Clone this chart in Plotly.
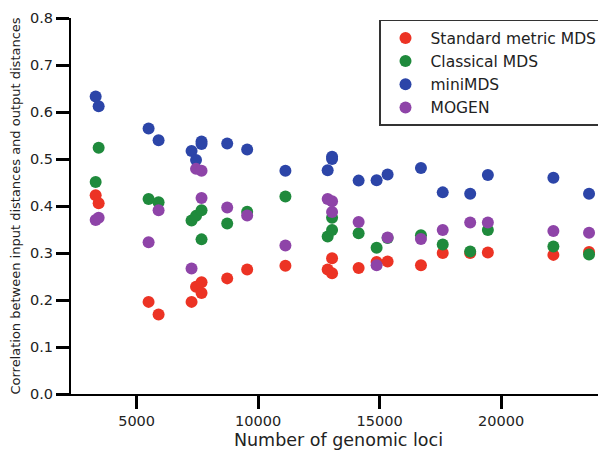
import plotly.graph_objects as go

loci = [3315, 3438, 5493, 5904, 7261, 7446, 7672, 7672, 8728, 9550, 11124,
        12863, 13044, 13044, 14137, 14877, 15329, 16702, 17598, 18728, 19455, 22152, 23619]

standard_mds = [0.423, 0.406, 0.196, 0.169, 0.196, 0.228, 0.238, 0.215, 0.246, 0.265, 0.273,
                0.265, 0.289, 0.257, 0.268, 0.281, 0.282, 0.274, 0.300, 0.300, 0.301, 0.296, 0.302]
classical_mds = [0.451, 0.524, 0.415, 0.408, 0.369, 0.379, 0.391, 0.329, 0.363, 0.388, 0.420,
                 0.335, 0.349, 0.375, 0.342, 0.311, 0.332, 0.338, 0.318, 0.303, 0.349, 0.314, 0.297]
mini_mds = [0.633, 0.612, 0.565, 0.540, 0.517, 0.498, 0.537, 0.532, 0.533, 0.520, 0.475,
            0.476, 0.505, 0.500, 0.454, 0.455, 0.467, 0.481, 0.429, 0.426, 0.466, 0.460, 0.426]
mogen = [0.370, 0.375, 0.323, 0.391, 0.267, 0.479, 0.475, 0.417, 0.397, 0.380, 0.316,
         0.415, 0.410, 0.387, 0.366, 0.274, 0.333, 0.330, 0.349, 0.365, 0.365, 0.347, 0.343]

series_names = ["Standard metric MDS", "Classical MDS", "miniMDS", "MOGEN"]
series_values = [standard_mds, classical_mds, mini_mds, mogen]
series_colors = ["#ec3324", "#1f8a3c", "#2c45a8", "#8e44a8"]

x_ticks = [5000, 10000, 15000, 20000]
y_ticks = [0.0, 0.1, 0.2, 0.3, 0.4, 0.5, 0.6, 0.7, 0.8]

fig = go.Figure()
for i, (name, vals, col) in enumerate(zip(series_names, series_values, series_colors)):
    fig.add_trace(go.Scatter(
        x=loci, y=vals, mode="markers", name=name, legendgroup=str(i),
        marker=dict(size=12, color=col, line=dict(width=0)),
    ))

# The page body adds an 8px margin, so the figure is sized 8px smaller to fit the window.
font_family = "DejaVu Sans, sans-serif"
fig.update_layout(
    width=598, height=442,
    margin=dict(l=63, r=0, t=10, b=56, autoexpand=False),
    paper_bgcolor="white", plot_bgcolor="white",
    font=dict(family=font_family, color="#222"),
    showlegend=True,
    legend=dict(
        x=0.9944, y=0.995, xanchor="right", yanchor="top",
        bgcolor="white", bordercolor="#333", borderwidth=1.5,
        font=dict(size=15.5, family=font_family, color="#222"),
        tracegroupgap=0, itemwidth=40,
    ),
    xaxis=dict(
        range=[2300, 24317], tickvals=x_ticks, ticktext=[str(v) for v in x_ticks],
        showgrid=False, zeroline=False, showline=True, linecolor="black", linewidth=2,
        ticks="outside", ticklen=13, tickwidth=2.5, tickcolor="black",
        tickfont=dict(size=14.5), automargin=False, ticklabeloverflow="allow",
        title=dict(text="Number of genomic loci", font=dict(size=17.5), standoff=7),
    ),
    yaxis=dict(
        range=[0, 0.8], tickvals=y_ticks, ticktext=[f"{v:.1f}" for v in y_ticks],
        showgrid=False, zeroline=False, showline=True, linecolor="black", linewidth=2,
        ticks="outside", ticklen=13, tickwidth=2.5, tickcolor="black",
        tickfont=dict(size=14.5), automargin=False, ticklabeloverflow="allow",
        title=dict(text="Correlation between input distances and output distances",
                   font=dict(size=13), standoff=9),
    ),
)

fig.write_html("out.html")
